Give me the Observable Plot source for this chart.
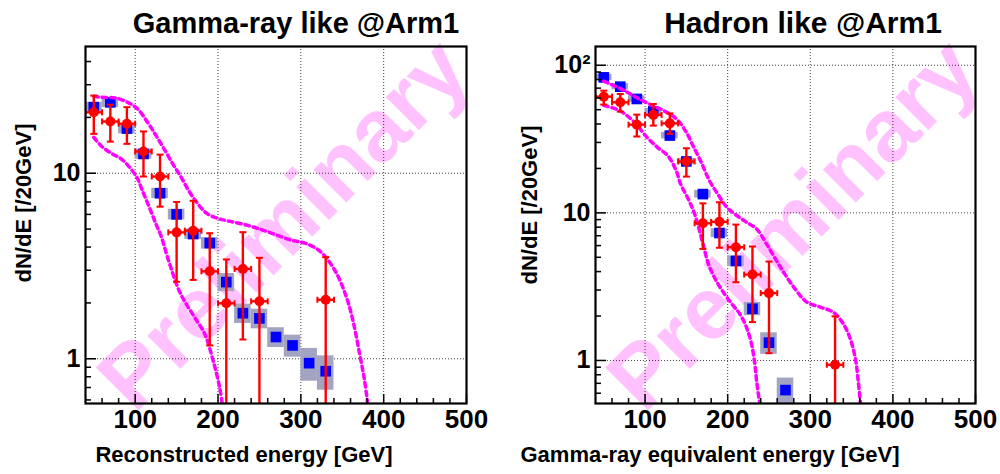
<!DOCTYPE html>
<html>
<head>
<meta charset="utf-8">
<script src="https://cdn.jsdelivr.net/npm/d3@7"></script>
<script src="https://cdn.jsdelivr.net/npm/@observablehq/plot@0.6"></script>
<style>
  body { margin: 0; background: #fff; }
  #wrap { position: relative; width: 1000px; height: 474px; overflow: hidden; font-family: "Liberation Sans", Arial, Helvetica, sans-serif; }
  #L, #R { position: absolute; top: 0; }
  #L { left: 0; } #R { left: 500px; }
  #labels { position: absolute; left: 0; top: 0; pointer-events: none; }
</style>
</head>
<body>
<div id="wrap">
  <div id="L"></div>
  <div id="R"></div>
  <svg id="labels" width="1000" height="474"></svg>
</div>
<script>
// ---------- Text ----------
const titleL = "Gamma-ray like @Arm1";
const titleR = "Hadron like @Arm1";
const xLabelL = "Reconstructed energy [GeV]";
const xLabelR = "Gamma-ray equivalent energy [GeV]";
const yLabel = "dN/dE [/20GeV]";
const watermark = "Preliminary";

// ---------- Axes ----------
const xDomain = [40, 500];
const xMajor = [100, 200, 300, 400, 500];
const xMinor = [60, 80, 120, 140, 160, 180, 220, 240, 260, 280, 320, 340, 360, 380, 420, 440, 460, 480];
const yDomainL = [0.574, 48.2];
const yMajorL = [1, 10];
const yMinorL = [0.6, 0.7, 0.8, 0.9, 2, 3, 4, 5, 6, 7, 8, 9, 20, 30, 40];
const yDomainR = [0.511, 134];
const yMajorR = [1, 10, 100];
const yMinorR = [0.6, 0.7, 0.8, 0.9, 2, 3, 4, 5, 6, 7, 8, 9, 20, 30, 40, 50, 60, 70, 80, 90];
const yTickLabelsR = {1: "1", 10: "10", 100: "10²"};

// ---------- Left panel: Gamma-ray like ----------
const mcEnergyL = [50, 70, 90, 110, 130, 150, 170, 190, 210, 230, 250, 270, 290, 310, 330];
const mcValueL  = [22.7, 24.1, 17.4, 12.7, 7.8, 6.0, 4.7, 4.2, 2.59, 1.76, 1.65, 1.31, 1.18, 0.947, 0.857];
const mcSystL   = [1.4, 1.5, 1.1, 0.8, 0.5, 0.4, 0.3, 0.3, 0.29, 0.21, 0.2, 0.16, 0.16, 0.19, 0.18];

const dataEnergyL = [50, 70, 90, 110, 130, 150, 170, 190, 210, 230, 250, 330];
const dataValueL  = [21.3, 19.0, 18.5, 13.1, 9.6, 4.8, 4.9, 2.96, 1.99, 3.05, 2.04, 2.08];
const dataHighL   = [26.2, 23.4, 22.7, 16.8, 12.6, 7.0, 7.1, 4.75, 3.43, 4.81, 3.5, 3.53];
const dataLowL    = [16.3, 14.8, 14.4, 9.6, 6.6, 2.6, 2.66, 1.18, 0.3, 1.27, 0.3, 0.3];

const upperEnergyL = [50, 58, 77, 91, 103, 115, 125, 135, 145, 155, 165, 175, 186, 200, 215, 238, 262, 289, 305, 323, 341, 355, 363, 371, 377, 381];
const upperValueL  = [26, 25.7, 25.4, 24.1, 22.2, 18.8, 16, 13.5, 11.3, 9.6, 8.0, 6.9, 6.1, 5.7, 5.5, 5.2, 4.8, 4.35, 4.2, 3.8, 3.0, 2.15, 1.6, 1.06, 0.76, 0.56];
const lowerEnergyL = [50, 60, 72.5, 83, 93, 103, 108, 117, 125, 131, 139, 153, 161.5, 171.5, 184, 194, 202, 205];
const lowerValueL  = [15.6, 13.9, 12.7, 11.96, 10.8, 9.33, 8.2, 6.56, 5.34, 4.62, 3.53, 2.33, 1.98, 1.68, 1.36, 0.98, 0.70, 0.57];

// ---------- Right panel: Hadron like ----------
const mcEnergyR = [50, 70, 90, 110, 130, 150, 170, 190, 210, 230, 250, 270];
const mcValueR  = [82.8, 71.6, 59.1, 48.7, 33.4, 22.3, 13.4, 7.3, 4.72, 2.24, 1.32, 0.63];
const mcSystR   = [4, 3.5, 3, 2.4, 1.7, 1.1, 0.8, 0.5, 0.4, 0.23, 0.22, 0.13];

const dataEnergyR = [50, 70, 90, 110, 130, 150, 170, 190, 210, 230, 250, 330];
const dataValueR  = [61.3, 56.1, 39.6, 46.1, 40.4, 22.3, 8.5, 8.7, 5.85, 3.82, 2.86, 0.935];
const dataHighR   = [67.3, 63.9, 46.3, 54.7, 47.2, 27.4, 11.6, 11.8, 8.33, 5.92, 4.68, 1.99];
const dataLowR    = [54.1, 48.5, 32.9, 39.0, 34.3, 17.6, 5.7, 5.8, 3.39, 1.82, 1.12, 0.2];

const upperEnergyR = [50, 55, 75, 93, 109, 121, 138, 150, 158, 168, 178, 188, 199, 211, 223, 235, 247, 264, 280, 296, 312, 328, 340, 349, 355, 358, 361];
const upperValueR  = [78, 75.9, 67.3, 59.1, 53.3, 49.8, 43.3, 35.1, 28.5, 22.0, 16.5, 13.4, 10.9, 9.6, 8.63, 7.79, 6.17, 4.28, 3.14, 2.48, 2.30, 2.12, 1.77, 1.37, 1.0, 0.73, 0.5];
const lowerEnergyR = [50, 69, 85, 103, 115, 127.5, 137.7, 143, 152, 160, 170, 177, 186, 196, 206.5, 214.6, 222.7, 228.8, 232.8, 235, 239];
const lowerValueR  = [53.5, 49.3, 42.2, 32.2, 27.8, 24.4, 19.3, 15.7, 12.5, 9.84, 6.2, 4.45, 3.48, 2.83, 2.36, 2.07, 1.68, 1.3, 0.95, 0.73, 0.5];

// ---------- Styles ----------
const FONT = "Liberation Sans, Arial, Helvetica, sans-serif";
const RED = "#ff0000", BLUE = "#0000ff", MAGENTA = "#ff00ff", SYSGRAY = "#a3a3c2", PINK = "#ffc2ff";
const binHalf = 10;

const capH = {draw(ctx, size) { const r = Math.sqrt(size / Math.PI); ctx.moveTo(-r, 0); ctx.lineTo(r, 0); }};
const capV = {draw(ctx, size) { const r = Math.sqrt(size / Math.PI); ctx.moveTo(0, -r); ctx.lineTo(0, r); }};

function zipMC(E, V, S) { return E.map((e, i) => ({e, v: V[i], s: S[i]})); }
function zipData(E, V, H, L) { return E.map((e, i) => ({e, v: V[i], hi: H[i], lo: L[i]})); }
function zipCurve(E, V) { return E.map((e, i) => ({e, v: V[i]})); }

function panel({mc, data, upper, lower, yDomain, yMajor, yMinor, fmt, marginLeft, marginRight}) {
  return Plot.plot({
    width: 500, height: 474,
    marginTop: 46, marginBottom: 71, marginLeft, marginRight,
    style: {fontFamily: FONT, background: "transparent", overflow: "visible", color: "black"},
    x: {domain: xDomain, axis: null},
    y: {type: "log", domain: yDomain, axis: null},
    marks: [
      Plot.text([watermark], {frameAnchor: "middle", rotate: -45, fontSize: 88, fontWeight: "bold", fill: PINK, dx: 8}),
      Plot.gridX(xMajor.filter(d => d < xDomain[1]), {stroke: "black", strokeOpacity: 0.75, strokeDasharray: "1,2"}),
      Plot.gridY(yMajor, {stroke: "black", strokeOpacity: 0.75, strokeDasharray: "1,2"}),
      // systematic boxes
      Plot.rect(mc, {x1: d => d.e - binHalf, x2: d => d.e + binHalf, y1: d => d.v - d.s, y2: d => d.v + d.s, fill: SYSGRAY, clip: true}),
      Plot.dot(mc, {x: "e", y: "v", symbol: "square", r: 6, fill: BLUE, clip: true}),
      // band curves
      Plot.line(upper, {x: "e", y: "v", stroke: MAGENTA, strokeWidth: 3.5, strokeDasharray: "4.5,4", curve: "catmull-rom", clip: true}),
      Plot.line(lower, {x: "e", y: "v", stroke: MAGENTA, strokeWidth: 3.5, strokeDasharray: "4.5,4", curve: "catmull-rom", clip: true}),
      // data with error bars
      Plot.ruleX(data, {x: "e", y1: "lo", y2: "hi", stroke: RED, strokeWidth: 2.4, clip: true}),
      Plot.ruleY(data, {y: "v", x1: d => d.e - binHalf, x2: d => d.e + binHalf, stroke: RED, strokeWidth: 2.4, clip: true}),
      Plot.dot(data, {x: "e", y: "hi", symbol: capH, r: 3.5, stroke: RED, strokeWidth: 2, fill: "none", clip: true}),
      Plot.dot(data, {x: "e", y: "lo", symbol: capH, r: 3.5, stroke: RED, strokeWidth: 2, fill: "none", clip: true}),
      Plot.dot(data, {x: d => d.e - binHalf, y: "v", symbol: capV, r: 3, stroke: RED, strokeWidth: 2, fill: "none", clip: true}),
      Plot.dot(data, {x: d => d.e + binHalf, y: "v", symbol: capV, r: 3, stroke: RED, strokeWidth: 2, fill: "none", clip: true}),
      Plot.dot(data, {x: "e", y: "v", r: 5, fill: RED, clip: true}),
      // axes: ticks inward
      Plot.axisX(xMinor, {anchor: "bottom", tickSize: -5, fill: "none", label: null, strokeWidth: 1.5}),
      Plot.axisX(xMajor, {anchor: "bottom", tickSize: -9, fill: "none", label: null, strokeWidth: 1.5}),
      Plot.axisY(yMinor, {anchor: "left", tickSize: -6, fill: "none", label: null, strokeWidth: 1.5}),
      Plot.axisY(yMajor, {anchor: "left", tickSize: -11, fill: "none", label: null, strokeWidth: 1.5}),
      Plot.axisX(xMajor, {anchor: "bottom", tickSize: 0, tickPadding: 6, fontSize: 26, fontWeight: "bold", label: null, tickFormat: d => String(d)}),
      Plot.axisY(yMajor, {anchor: "left", tickSize: 0, tickPadding: 5, fontSize: 25, fontWeight: "bold", label: null, tickFormat: fmt}),
      Plot.frame({stroke: "black", strokeWidth: 2.2})
    ]
  });
}

document.getElementById("L").appendChild(panel({
  mc: zipMC(mcEnergyL, mcValueL, mcSystL),
  data: zipData(dataEnergyL, dataValueL, dataHighL, dataLowL),
  upper: zipCurve(upperEnergyL, upperValueL),
  lower: zipCurve(lowerEnergyL, lowerValueL),
  yDomain: yDomainL, yMajor: yMajorL, yMinor: yMinorL, fmt: d => String(d),
  marginLeft: 85, marginRight: 34
}));

document.getElementById("R").appendChild(panel({
  mc: zipMC(mcEnergyR, mcValueR, mcSystR),
  data: zipData(dataEnergyR, dataValueR, dataHighR, dataLowR),
  upper: zipCurve(upperEnergyR, upperValueR),
  lower: zipCurve(lowerEnergyR, lowerValueR),
  yDomain: yDomainR, yMajor: yMajorR, yMinor: yMinorR, fmt: d => yTickLabelsR[d],
  marginLeft: 95, marginRight: 25
}));

// ---------- Titles and axis titles ----------
const svg = d3.select("#labels").style("font-family", FONT).style("font-weight", "bold");
const labels = [
  {t: titleL, x: 296, y: 33, size: 29, rot: 0},
  {t: titleR, x: 803, y: 33, size: 30, rot: 0},
  {t: xLabelL, x: 244, y: 462, size: 22, rot: 0},
  {t: xLabelR, x: 710, y: 462, size: 22, rot: 0},
  {t: yLabel, x: 31, y: 203, size: 22, rot: -90},
  {t: yLabel, x: 537, y: 205, size: 22, rot: -90}
];
svg.selectAll("text").data(labels).join("text")
  .attr("transform", d => `translate(${d.x},${d.y}) rotate(${d.rot})`)
  .attr("text-anchor", "middle")
  .attr("font-size", d => d.size)
  .attr("fill", "black")
  .text(d => d.t);
</script>
</body>
</html>
